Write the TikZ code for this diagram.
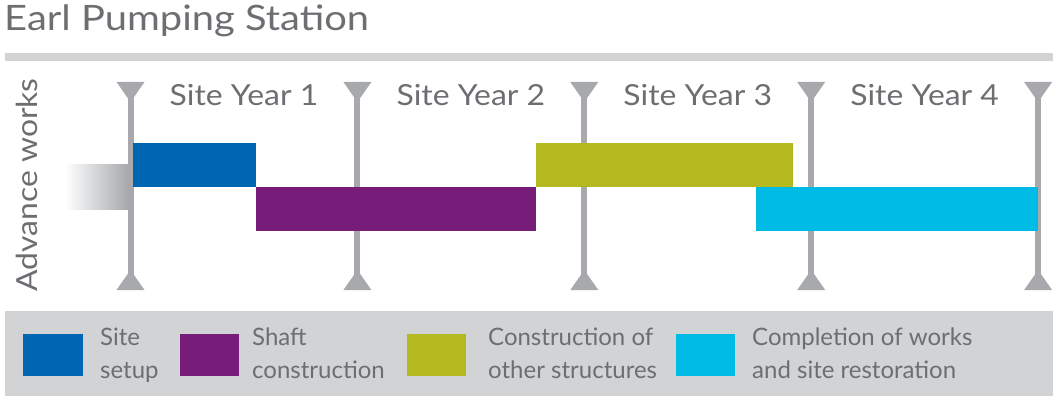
\documentclass[tikz,border=0pt]{standalone}
\usepackage{fontspec}
\setmainfont{Lato}
\newfontfamily\titlefont[FakeStretch=1.14]{Lato}
\newfontfamily\yearfont[FakeStretch=1.1]{Lato}
\definecolor{txtgray}{HTML}{6D6E71}
\definecolor{linegray}{HTML}{A7A9AC}
\definecolor{boxgray}{HTML}{D1D3D4}
\definecolor{setupblue}{HTML}{0066B2}
\definecolor{shaftpurple}{HTML}{781C7A}
\definecolor{otherolive}{HTML}{B3B91E}
\definecolor{finishcyan}{HTML}{00BBE6}

\begin{document}
\begin{tikzpicture}[x=1pt, y=-1pt,
    yearline/.style={linegray, line width=6pt},
    yearlbl/.style={txtgray, anchor=base, inner sep=0pt, font=\yearfont\fontsize{29}{32}\selectfont},
    keytext/.style={txtgray, anchor=north west, inner sep=0pt, align=left,
        font=\fontsize{24}{33}\selectfont}]
    \useasboundingbox (0,0) rectangle (1053,396);

    % title and rule
    \node[txtgray, anchor=base west, inner sep=0pt, font=\titlefont\fontsize{35}{40}\selectfont]
        (title) at (4,31) {Earl Pumping Station};
    \fill[boxgray] (5,53) rectangle (1053,61);

    \node[txtgray, rotate=90, anchor=base, inner sep=0pt, font=\yearfont\fontsize{29}{32}\selectfont]
        (advance) at (37,185) {Advance works};
    \shade[left color=white, right color=linegray] (65,164) rectangle (128,209);

    % year markers
    \foreach \i in {0,...,4} {
        \pgfmathsetmacro{\xx}{130.5+226.9*\i}
        \draw[yearline] (\xx,86) -- (\xx,286);
        \fill[linegray] (\xx-14,82) -- (\xx+14,82) -- (\xx,102) -- cycle;
        \fill[linegray] (\xx-14,290) -- (\xx+14,290) -- (\xx,270) -- cycle;
    }
    \foreach \i in {1,...,4} {
        \pgfmathsetmacro{\xx}{130.5+226.9*(\i-0.5)}
        \node[yearlbl] (year\i) at (\xx,106) {Site Year \i};
    }

    % bars
    \fill[setupblue]   (133,143) rectangle (256,187);
    \fill[shaftpurple] (256,187) rectangle (536,231);
    \fill[otherolive]  (536,143) rectangle (793,187);
    \fill[finishcyan]  (756,187) rectangle (1038,231);

    % key
    \fill[boxgray] (5,311) rectangle (1053,396);
    \fill[setupblue]   (23,334) rectangle (83,376);
    \fill[shaftpurple] (180,334) rectangle (239,376);
    \fill[otherolive]  (407,334) rectangle (466,376);
    \fill[finishcyan]  (676,334) rectangle (735,376);
    \node[keytext] (keysetup) at (100,328) {Site\\setup};
    \node[keytext] (keyshaft) at (252,328) {Shaft\\construction};
    \node[keytext] (keyother) at (488,328) {Construction of\\other structures};
    \node[keytext] (keyfinish) at (752,328) {Completion of works\\and site restoration};
\end{tikzpicture}
\end{document}
